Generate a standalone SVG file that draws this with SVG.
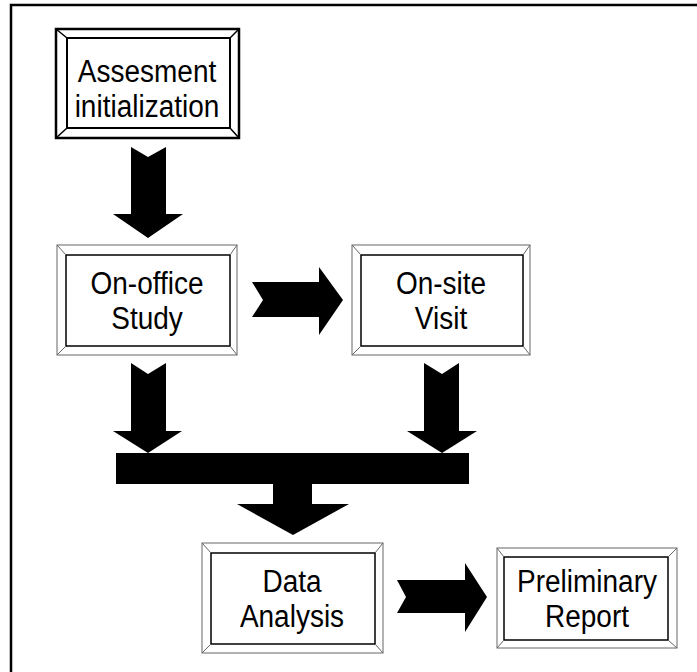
<svg xmlns="http://www.w3.org/2000/svg" width="697" height="672" viewBox="0 0 697 672">
<style>
.outer{fill:#fff;stroke:#666;stroke-width:1}
.inner{fill:none;stroke:#000;stroke-width:1.5}
.bev{stroke:#666;stroke-width:1;fill:none}
.b1 .outer{stroke:#000;stroke-width:2.5}
.b1 .inner{stroke-width:2}
.b1 .bev{stroke:#000;stroke-width:1.5}
text{font-family:"Liberation Sans",Arial,sans-serif;font-size:28px;fill:#000;text-anchor:middle}
.arrow{fill:#000}
</style>
<rect width="697" height="672" fill="#fff"/>
<path d="M11,680 V5 H700" fill="none" stroke="#000" stroke-width="2.5"/>

<g id="assessment">
<g class="b1">
<rect class="outer" x="56" y="29" width="183" height="109"/>
<rect class="inner" x="67" y="38" width="163" height="90"/>
<path class="bev" d="M56,29 L67,38 M239,29 L230,38 M56,138 L67,128 M239,138 L230,128"/>
</g>
<text transform="translate(147,82) scale(1,1.1)">Assesment</text>
<text transform="translate(147,117) scale(1,1.1)">initialization</text>
</g>

<g id="onoffice">
<rect class="outer" x="57" y="245" width="180" height="110"/>
<rect class="inner" x="66" y="255" width="164" height="91"/>
<path class="bev" d="M57,245 L66,255 M237,245 L230,255 M57,355 L66,346 M237,355 L230,346"/>
<text transform="translate(147,294) scale(1,1.1)">On-office</text>
<text transform="translate(147,329) scale(1,1.1)">Study</text>
</g>

<g id="onsite">
<rect class="outer" x="352" y="245" width="178" height="110"/>
<rect class="inner" x="361" y="255" width="162" height="91"/>
<path class="bev" d="M352,245 L361,255 M530,245 L523,255 M352,355 L361,346 M530,355 L523,346"/>
<text transform="translate(441,294) scale(1,1.1)">On-site</text>
<text transform="translate(441,329) scale(1,1.1)">Visit</text>
</g>

<g id="data">
<rect class="outer" x="202" y="543" width="181" height="110"/>
<rect class="inner" x="211" y="553" width="164" height="91"/>
<path class="bev" d="M202,543 L211,553 M383,543 L375,553 M202,653 L211,644 M383,653 L375,644"/>
<text transform="translate(292,592) scale(1,1.1)">Data</text>
<text transform="translate(292,627) scale(1,1.1)">Analysis</text>
</g>

<g id="report">
<rect class="outer" x="497" y="548" width="180" height="100"/>
<rect class="inner" x="504" y="557" width="164" height="83"/>
<path class="bev" d="M497,548 L504,557 M677,548 L668,557 M497,648 L504,640 M677,648 L668,640"/>
<text transform="translate(587,592) scale(1,1.1)">Preliminary</text>
<text transform="translate(587,627) scale(1,1.1)">Report</text>
</g>

<g id="connectors">
<polygon class="arrow" points="131,147 148,157 166,147 166,214 183,214 148,238 113,214 131,214"/>
<polygon class="arrow" points="252,282 319,282 319,267 343,300 319,335 319,317 252,317 263,300"/>
<polygon class="arrow" points="131,363 148,374 166,363 166,431 182,431 148,453 113,431 131,431"/>
<polygon class="arrow" points="424,363 442,374 459,363 459,431 477,431 442,453 407,431 424,431"/>
<polygon class="arrow" points="116,453 469,453 469,484 312,484 312,504 349,504 293,535 237,504 273,504 273,484 116,484"/>
<polygon class="arrow" points="397,580 465,580 465,563 487,597 465,632 465,613 397,613 406,597"/>
</g>
</svg>
